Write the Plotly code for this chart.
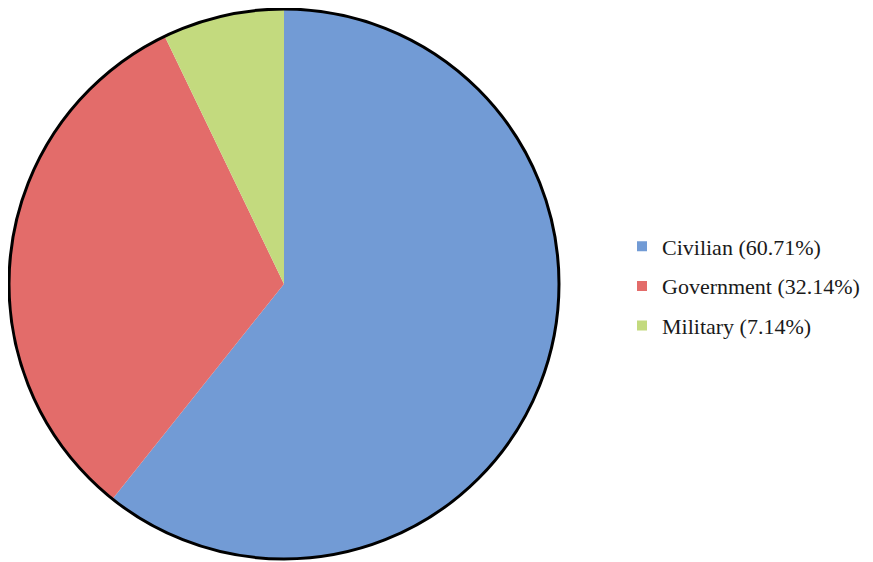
import plotly.graph_objects as go

labels = ["Civilian (60.71%)", "Government (32.14%)", "Military (7.14%)"]
values = [60.71, 32.14, 7.14]
colors = ["#729bd5", "#e36c6a", "#c3da7e"]

W, H = 873, 562
OFF = 8  # page body margin
cx, cy, r = 284 - OFF, 284 - OFF, 275

dom_x = [(cx - r) / W, (cx + r) / W]
dom_y = [(H - cy - r) / H, (H - cy + r) / H]

fig = go.Figure()
fig.add_trace(go.Pie(
    labels=labels, values=values, sort=False, direction="clockwise", rotation=0,
    marker=dict(colors=colors, line=dict(width=0)),
    textinfo="none", domain=dict(x=dom_x, y=dom_y), hoverinfo="label",
    showlegend=False,
))
# outer black outline
fig.add_trace(go.Pie(
    labels=["outline"], values=[1], showlegend=False, textinfo="none",
    marker=dict(colors=["rgba(0,0,0,0)"], line=dict(color="black", width=3)),
    domain=dict(x=dom_x, y=dom_y), hoverinfo="skip",
))
# legend entries
for lab, col in zip(labels, colors):
    fig.add_trace(go.Scatter(
        x=[None], y=[None], mode="markers", name=lab, legendgroup=lab,
        marker=dict(symbol="square", size=10, color=col, line=dict(width=0)),
    ))
fig.update_layout(
    width=W, height=H, margin=dict(l=0, r=0, t=0, b=0),
    paper_bgcolor="white", plot_bgcolor="white",
    xaxis=dict(visible=False), yaxis=dict(visible=False),
    legend=dict(x=(622 - OFF) / W, y=1 - (286 - OFF) / H, xanchor="left", yanchor="middle",
                tracegroupgap=8,
                font=dict(family="Liberation Serif", size=22, color="#1a1a1a")),
)
fig.write_html("out.html")
